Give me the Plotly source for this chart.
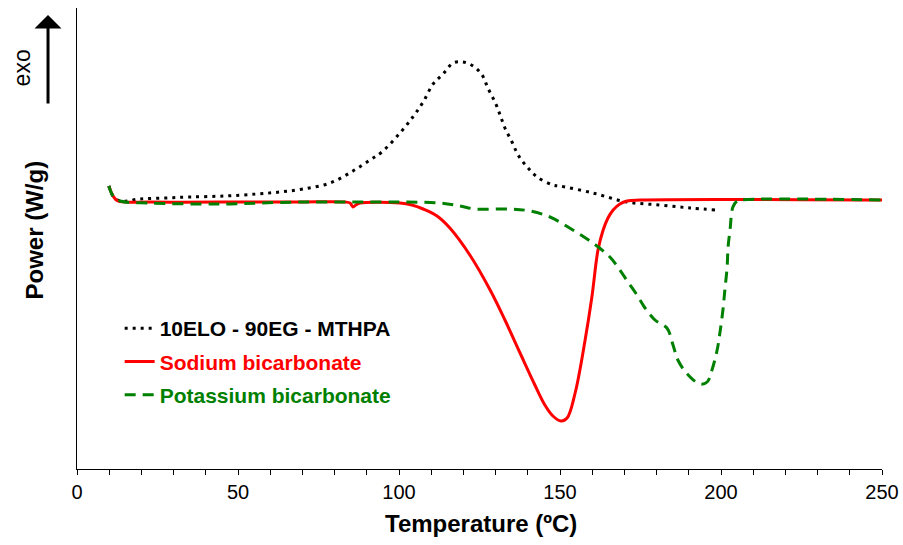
import plotly.graph_objects as go

# Temperature (ºC) and Power (W/g, arbitrary offset)
t_base = [9.9, 11.2, 13.4, 19.6, 27.3, 35.1, 46.0, 55.9, 63.0, 70.2, 78.6, 85.7, 91.0, 94.7,
          100.3, 104.3, 107.5, 110.6, 113.7, 116.8, 119.9, 123.0, 125.8, 127.6, 129.8, 131.4,
          132.9, 135.1, 137.0, 139.8, 142.9, 147.8, 150.0, 160.2, 170.8, 181.1, 190.4, 198.4]
p_base = [0.14, 0.04, -0.01, 0.01, 0.02, 0.03, 0.04, 0.06, 0.08, 0.11, 0.17, 0.29, 0.40, 0.48,
          0.67, 0.83, 0.98, 1.16, 1.26, 1.37, 1.38, 1.34, 1.25, 1.12, 0.98, 0.85,
          0.72, 0.58, 0.45, 0.33, 0.23, 0.15, 0.14, 0.07, -0.02, -0.05, -0.08, -0.10]

t_sodium = [9.9, 11.2, 12.7, 22.7, 53.7, 69.3, 83.2, 84.8, 85.7, 86.6, 87.9, 100.3, 104.0,
            107.5, 111.8, 115.8, 122.0, 128.3, 132.9, 137.6, 142.2, 145.3, 147.8, 150.3,
            152.2, 154.7, 157.8, 159.9, 161.8, 163.4, 164.9, 166.5, 168.6, 170.8, 174.8, 250.0]
p_sodium = [0.14, 0.04, -0.01, -0.02, -0.02, -0.02, -0.02, -0.03, -0.07, -0.05, -0.03, -0.03, -0.05,
            -0.09, -0.16, -0.28, -0.55, -0.90, -1.20, -1.53, -1.85, -2.05, -2.16, -2.21,
            -2.18, -1.93, -1.40, -0.97, -0.50, -0.30, -0.18, -0.10, -0.04, -0.01, 0.00, 0.00]

t_potassium = [9.9, 11.2, 13.4, 22.7, 38.2, 47.5, 56.8, 69.3, 84.8, 100.3, 112.7, 118.9, 123.6,
               134.5, 140.7, 146.9, 154.0, 160.2, 165.5, 168.6, 171.1, 173.9, 176.4, 179.5,
               183.2, 185.1, 186.6, 189.8, 193.5, 195.7, 197.2, 198.8, 199.7, 200.6, 201.2,
               201.9, 202.2, 202.8, 203.7, 205.0, 205.9, 250.0]
p_potassium = [0.14, 0.04, -0.01, -0.03, -0.04, -0.04, -0.03, -0.02, -0.02, -0.02, -0.03, -0.06, -0.09,
               -0.09, -0.11, -0.17, -0.30, -0.43, -0.57, -0.70, -0.82, -0.95, -1.08, -1.20,
               -1.28, -1.45, -1.60, -1.75, -1.84, -1.82, -1.70, -1.50, -1.32, -1.10, -0.90,
               -0.67, -0.47, -0.30, -0.07, -0.01, 0.00, 0.00]

names = ["10ELO - 90EG - MTHPA", "Sodium bicarbonate", "Potassium bicarbonate"]
colors = ["#000000", "#FF0000", "#008000"]

x_ticks = list(range(0, 251, 10))
x_labels = [str(v) if v % 50 == 0 else "" for v in x_ticks]

FONT = "Liberation Sans, Arial, sans-serif"

fig = go.Figure()
series = [(t_base, p_base, "3px,5px"), (t_sodium, p_sodium, "solid"), (t_potassium, p_potassium, "11px,7px")]
for i, (tx, py, dash) in enumerate(series):
    fig.add_trace(go.Scatter(
        x=tx, y=py, mode="lines", line_shape="spline",
        name="<span style='color:%s'><b>%s</b></span>" % (colors[i], names[i]),
        legendgroup="g%d" % i,
        line=dict(color=colors[i], width=3, dash=dash),
    ))

fig.update_layout(
    width=903, height=545,
    margin=dict(l=77, r=21, t=8, b=76),
    paper_bgcolor="white", plot_bgcolor="white",
    font=dict(family=FONT, color="black"),
    showlegend=True,
    legend=dict(x=0.053, y=0.349, xanchor="left", yanchor="top",
                font=dict(size=21, family=FONT), tracegroupgap=3,
                bgcolor="rgba(0,0,0,0)"),
    xaxis=dict(range=[0, 250], showline=True, linecolor="black", linewidth=1,
               tickmode="array", tickvals=x_ticks, ticktext=x_labels, automargin=False,
               ticks="outside", ticklen=5, tickcolor="black", ticklabeloverflow="allow",
               tickfont=dict(size=20, family=FONT), showgrid=False, zeroline=False),
    yaxis=dict(range=[-2.69, 1.92], showline=True, linecolor="black", linewidth=1,
               automargin=False,
               showticklabels=False, ticks="", showgrid=False, zeroline=False),
    annotations=[
        dict(text="<b>Temperature (ºC)</b>", xref="paper", yref="paper", x=0.502, y=-0.119,
             xanchor="center", yanchor="middle", showarrow=False, font=dict(size=24)),
        dict(text="<b>Power (W/g)</b>", xref="paper", yref="paper", x=-0.053, y=0.518,
             xanchor="center", yanchor="middle", showarrow=False, textangle=-90, font=dict(size=24)),
        dict(text="exo", xref="paper", yref="paper", x=-0.069, y=0.870,
             xanchor="center", yanchor="middle", showarrow=False, textangle=-90, font=dict(size=23)),
        dict(text="", xref="paper", yref="paper", x=-0.036, y=0.985, ax=0, ay=90,
             showarrow=True, arrowhead=1, arrowsize=1.5, arrowwidth=3, arrowcolor="black"),
    ],
)

fig.write_html("out.html", config={"displayModeBar": False},
               post_script="document.body.style.margin='0';document.body.style.overflow='hidden';")
